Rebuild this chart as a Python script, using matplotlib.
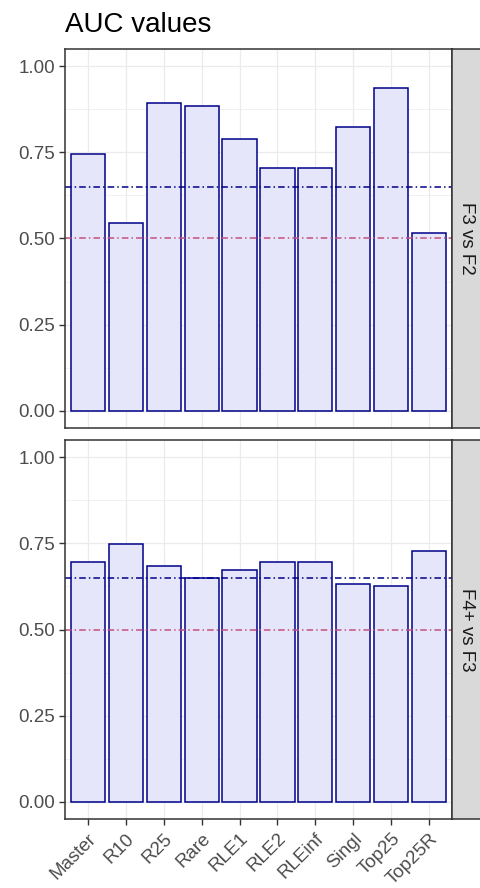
import numpy as np
import matplotlib.pyplot as plt

# AUC per method, one panel per comparison
methods = ["Master", "R10", "R25", "Rare", "RLE1", "RLE2", "RLEinf", "Singl", "Top25", "Top25R"]
auc_f3_f2 = [0.744, 0.545, 0.894, 0.885, 0.790, 0.705, 0.705, 0.824, 0.937, 0.515]
auc_f4_f3 = [0.697, 0.749, 0.684, 0.649, 0.673, 0.697, 0.697, 0.631, 0.626, 0.729]
panel_labels = ["F3 vs F2", "F4+ vs F3"]
thresholds = [0.65, 0.5]
threshold_colors = ["#00008B", "#C4507F"]
yticks = [0.0, 0.25, 0.5, 0.75, 1.0]

plt.rcParams['font.family'] = ['Liberation Sans', 'DejaVu Sans']

W, H = 481, 888
fig = plt.figure(figsize=(W / 100, H / 100), dpi=100)

# panel boxes in pixels: (left, top, right, bottom)
panels = [(65, 49, 452, 428), (65, 440, 452, 819)]
strip_right = 481

x = np.arange(len(methods))
dash = (0, (4.3, 2.0, 1.0, 2.0))

for i, (vals, lab) in enumerate(zip([auc_f3_f2, auc_f4_f3], panel_labels)):
    l, t, r, b = panels[i]
    ax = fig.add_axes([l / W, 1 - b / H, (r - l) / W, (b - t) / H])
    ax.set_xlim(-0.6, len(methods) - 0.4)
    ax.set_ylim(-0.05, 1.05)
    # grid
    for yv in np.arange(0, 1.01, 0.125):
        ax.axhline(yv, color="#EBEBEB", lw=0.9 if yv in yticks else 0.5, zorder=0)
    for xv in x:
        ax.axvline(xv, color="#EBEBEB", lw=0.9, zorder=0)
    ax.bar(x, vals, width=0.9, color="#E6E6FA", edgecolor="#00008B", linewidth=1.1, zorder=2)
    for th, c in zip(thresholds, threshold_colors):
        ax.axhline(th, color=c, lw=1.1, linestyle=dash, zorder=3)
    ax.set_yticks(yticks)
    ax.set_yticklabels(["0.00", "0.25", "0.50", "0.75", "1.00"])
    ax.set_xticks(x)
    if i == 1:
        ax.set_xticklabels(methods, rotation=45, ha="right", rotation_mode="anchor")
        ax.tick_params(axis="x", pad=4, length=4)
    else:
        ax.set_xticklabels([])
        ax.tick_params(axis="x", length=0)
    ax.tick_params(axis="both", colors="#333333", labelcolor="#4D4D4D", labelsize=13.5,
                   width=1.0)
    ax.tick_params(axis="y", pad=3, length=4)
    for s in ax.spines.values():
        s.set_color("#333333")
        s.set_linewidth(1.1)
        s.set_zorder(5)

    # facet strip
    sax = fig.add_axes([r / W, 1 - b / H, (strip_right - r) / W, (b - t) / H])
    sax.set_facecolor("#D9D9D9")
    sax.set_xticks([])
    sax.set_yticks([])
    for s in sax.spines.values():
        s.set_color("#333333")
        s.set_linewidth(1.1)
    sax.spines["right"].set_visible(False)
    sax.text(0.5, 0.5, lab, rotation=-90, ha="center", va="center",
             fontsize=13.5, color="#1A1A1A", transform=sax.transAxes)

fig.text(65 / W, 1 - 32 / H, "AUC values", fontsize=20, color="black", ha="left", va="baseline")

fig.savefig("out.png", dpi=100)
